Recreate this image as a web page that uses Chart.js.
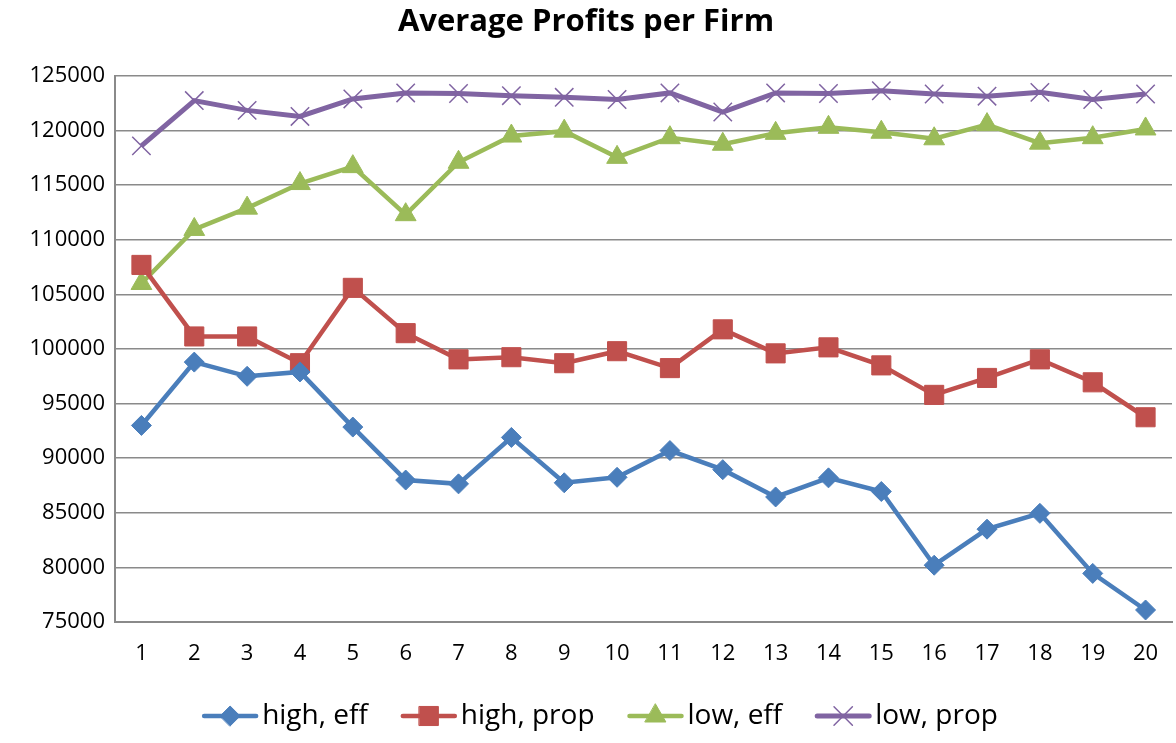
<!DOCTYPE html>
<html>
<head>
<meta charset="utf-8">
<script src="https://cdn.jsdelivr.net/npm/chart.js@4/dist/chart.umd.min.js"></script>
<style>
  html, body { margin: 0; padding: 0; background: #fff; }
  #wrap { width: 1176px; height: 743px; }
</style>
</head>
<body>
<div id="wrap"><canvas id="profitsChart" width="1176" height="743"></canvas></div>
<script>
const rounds = ['1','2','3','4','5','6','7','8','9','10','11','12','13','14','15','16','17','18','19','20'];

const highEff  = [93000, 98800, 97500, 97900, 92850, 88000, 87650, 91900, 87750, 88250, 90700, 88950, 86450, 88200, 86950, 80200, 83500, 84950, 79450, 76100];
const highProp = [107700, 101150, 101150, 98700, 105600, 101450, 99050, 99250, 98700, 99800, 98250, 101800, 99600, 100150, 98500, 95800, 97350, 99050, 96950, 93750];
const lowEff   = [106000, 110950, 112900, 115150, 116700, 112300, 117100, 119500, 119950, 117550, 119350, 118750, 119750, 120300, 119850, 119250, 120550, 118850, 119350, 120150];
const lowProp  = [118600, 122750, 121850, 121300, 122900, 123450, 123400, 123200, 123050, 122850, 123450, 121700, 123450, 123400, 123650, 123350, 123150, 123500, 122850, 123350];

const yMin = 75000, yMax = 125000, yStep = 5000;

const gridGrey = '#8a8a8a';
const fontFam = "'Open Sans', 'Liberation Sans', sans-serif";

function series(label, data, color, style, radius, lw, pbw) {
  return {
    label: label,
    data: data,
    borderColor: color,
    backgroundColor: color,
    borderWidth: lw,
    pointStyle: style,
    pointRadius: radius,
    pointHoverRadius: radius,
    pointBackgroundColor: color,
    pointBorderColor: color,
    pointBorderWidth: pbw,
    tension: 0,
    fill: false
  };
}

// Excel style legend: short line with the marker on it, then the name
const excelLegend = {
  id: 'excelLegend',
  afterDraw(chart) {
    const ctx = chart.ctx;
    const lineLen = 56, textGap = 4, itemGap = 33;
    const y = 716;
    ctx.save();
    ctx.font = '28px ' + fontFam;
    const items = chart.data.datasets.map(ds => ({ ds, w: ctx.measureText(ds.label).width }));
    const total = items.reduce((s, it) => s + lineLen + textGap + it.w, 0) + itemGap * (items.length - 1);
    let x = 600 - total / 2;
    items.forEach(it => {
      const ds = it.ds;
      ctx.strokeStyle = ds.borderColor;
      ctx.lineWidth = ds.borderWidth;
      ctx.lineCap = 'round';
      ctx.beginPath();
      ctx.moveTo(x + 2, y);
      ctx.lineTo(x + lineLen - 2, y);
      ctx.stroke();
      ctx.fillStyle = ds.pointBackgroundColor;
      ctx.strokeStyle = ds.pointBorderColor;
      ctx.lineWidth = ds.pointBorderWidth;
      Chart.helpers.drawPoint(ctx, {
        pointStyle: ds.pointStyle,
        radius: ds.pointRadius,
        rotation: 0,
        borderWidth: ds.pointBorderWidth
      }, x + lineLen / 2, y);
      ctx.fillStyle = '#000';
      ctx.textBaseline = 'middle';
      ctx.textAlign = 'left';
      ctx.fillText(ds.label, x + lineLen + textGap, y);
      x += lineLen + textGap + it.w + itemGap;
    });
    ctx.restore();
  }
};

const ctx = document.getElementById('profitsChart').getContext('2d');
new Chart(ctx, {
  type: 'line',
  data: {
    labels: rounds,
    datasets: [
      series('high, eff', highEff, '#4a7ebb', 'rectRot', 10, 4.5, 1),
      series('high, prop', highProp, '#c0504d', 'rect', 13.5, 4.5, 1),
      series('low, eff', lowEff, '#9bbb59', 'triangle', 12, 4.5, 1),
      series('low, prop', lowProp, '#8064a2', 'crossRot', 13, 5, 1.5)
    ]
  },
  options: {
    responsive: false,
    animation: false,
    // markers may hang over the edge, as in the Excel original
    layout: { autoPadding: false, padding: { top: 4, left: 0, right: 4, bottom: 61 } },
    plugins: {
      title: {
        display: true,
        text: 'Average Profits per Firm',
        color: '#000',
        font: { family: fontFam, size: 31, weight: 'bold', lineHeight: 1.2 },
        padding: { top: 0, bottom: 34.8 }
      },
      legend: { display: false },
      tooltip: { enabled: false }
    },
    scales: {
      x: {
        offset: true,
        grid: { display: false, drawTicks: false },
        border: { display: true, color: gridGrey, width: 2 },
        ticks: { color: '#000', font: { family: fontFam, size: 22, lineHeight: 2.9 }, padding: 0, maxRotation: 0 },
        afterFit(scale) {
          scale.height = 60;
          scale.paddingLeft = 0;
          scale.paddingRight = 0;
        }
      },
      y: {
        min: yMin,
        max: yMax,
        ticks: {
          stepSize: yStep,
          color: '#000',
          font: { family: fontFam, size: 22 },
          padding: 10,
          callback: v => String(v)
        },
        grid: { color: gridGrey, lineWidth: 1.5, drawTicks: false },
        border: { display: true, color: gridGrey, width: 2 },
        afterFit(scale) { scale.width = 115; }
      }
    }
  },
  plugins: [excelLegend]
});
</script>
</body>
</html>
